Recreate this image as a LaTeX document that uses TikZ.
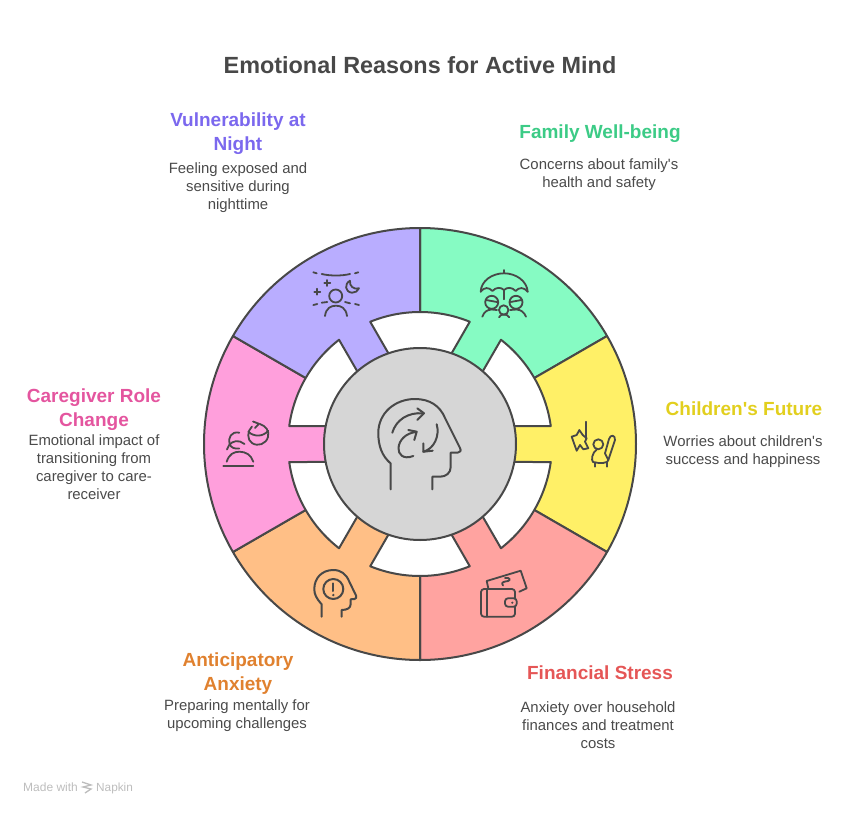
\documentclass[tikz,border=0pt]{standalone}
\usepackage{fontspec}
\setmainfont[Ligatures=TeXOff]{Liberation Sans}
\definecolor{inkgray}{HTML}{484848}
\definecolor{bodygray}{HTML}{4A4A4A}
\definecolor{markgray}{HTML}{BDBDBD}
\definecolor{hubgray}{HTML}{D6D6D6}
\definecolor{fillpurple}{HTML}{B9ADFF}
\definecolor{fillgreen}{HTML}{86FBC3}
\definecolor{fillyellow}{HTML}{FFF067}
\definecolor{fillred}{HTML}{FFA3A0}
\definecolor{fillorange}{HTML}{FFBF86}
\definecolor{fillpink}{HTML}{FF9FDC}
\definecolor{headpurple}{HTML}{7B68EE}
\definecolor{headgreen}{HTML}{3CCB86}
\definecolor{headyellow}{HTML}{E2CF1E}
\definecolor{headred}{HTML}{E55656}
\definecolor{headorange}{HTML}{E0812F}
\definecolor{headpink}{HTML}{E4559F}
\tikzset{
  wedge/.style={draw=inkgray, line width=2pt, line join=round},
  notch/.style={draw=inkgray, fill=white, line width=2pt, line join=round},
  icon/.style={draw=inkgray, line width=2pt, line cap=round, line join=round},
  thinicon/.style={icon, line width=1.8pt},
  headline/.style={font=\bfseries\fontsize{19}{24}\selectfont, align=center},
  blurb/.style={text=bodygray, font=\fontsize{14.9}{18}\selectfont, align=center},
}
\begin{document}
\begin{tikzpicture}[x=1pt,y=-1pt]
  \useasboundingbox (0,0) rectangle (852,814);

  \begin{scope}[shift={(420,444)}]
    \foreach \a/\col in {90/fillgreen,30/fillyellow,-30/fillred,-90/fillorange,-150/fillpink,-210/fillpurple}
      \draw[wedge, fill=\col] (0pt,0pt) -- (\a:216pt) arc[start angle=\a, end angle=\a-60, radius=216pt] -- cycle;
    \foreach \c in {90,30,-30,-90,-150,150}
      \draw[notch] ({\c-19.2}:96pt) -- ({\c-22.16}:132pt) arc[start angle=\c-22.16, end angle=\c+22.16, radius=132pt] -- ({\c+19.2}:96pt) -- cycle;
    \node[circle, draw=inkgray, fill=hubgray, line width=2pt, minimum size=192pt, inner sep=0pt] (hub) at (0pt,0pt) {};
  \end{scope}

  % head in the hub
  \draw[icon] (390.7,489.3) -- (390.7,463.5) .. controls (382,456) and (378.3,446) .. (378.3,433) .. controls (378.3,413) and (395,399) .. (415,399) .. controls (430,399) and (440,406) .. (445,418) -- (460,448) .. controls (461.5,451) and (460,452.3) .. (458,452.5) -- (450.7,452.7) -- (450.7,467) .. controls (450.7,473) and (446,476.7) .. (440,476.7) -- (432.3,476.7) -- (432.3,489.3);
  \draw[icon] (392.3,432.7) .. controls (396,420) and (408,412) .. (423.3,413.3);
  \draw[icon] (417.3,408.3) -- (424,413.3) -- (417.3,420);
  \draw[icon] (413.3,456) .. controls (403,460) and (398,454) .. (398.5,448) .. controls (399,440) and (406,433) .. (416,432);
  \draw[icon] (408.3,430) -- (416.7,431.7) -- (414.3,440);
  \draw[icon] (436.7,424.3) .. controls (440,436) and (434,449) .. (423.3,451.7);
  \draw[icon] (423.3,443.3) -- (423.3,451.7) -- (432.7,450.7);

  % night
  \draw[thinicon] (321.7,274) .. controls (330,276) and (342,276) .. (350,274);
  \draw[thinicon] (313.3,272.3) -- (316.7,273.3);
  \draw[thinicon] (355,273.3) -- (358.3,272.3);
  \draw[thinicon] (324.3,283) -- (330.3,283);
  \draw[thinicon] (327.3,280) -- (327.3,286);
  \draw[thinicon] (314.3,291.7) -- (320.3,291.7);
  \draw[thinicon] (317.3,288.7) -- (317.3,294.7);
  \draw[thinicon] (350,280.7) .. controls (344,284) and (345,292) .. (352,292.7) .. controls (355,293) and (358,291) .. (359,288.3) .. controls (354,290) and (349,286) .. (350,280.7);
  \draw[thinicon] (335.7,296) circle[radius=6.5pt];
  \draw[thinicon] (313.3,305) -- (317.3,304);
  \draw[thinicon] (321.7,302.7) -- (327.3,302);
  \draw[thinicon] (345,302) -- (350,303.3);
  \draw[thinicon] (355,304) -- (359,305);
  \draw[thinicon] (325,316) .. controls (326,308) and (331,305.7) .. (336,305.7) .. controls (341,305.7) and (346,308) .. (347,316);

  % umbrella
  \draw[thinicon] (504,270) -- (504,273.3);
  \draw[thinicon] (480.7,291.7) .. controls (481,281) and (492,273.3) .. (504,273.3) .. controls (516,273.3) and (527,281) .. (527.7,291.7);
  \draw[thinicon] (480.7,291.7) .. controls (484,287) and (489,287) .. (492.4,291) .. controls (496,287) and (501,287) .. (504,290) .. controls (507,287) and (512,287) .. (515.7,291) .. controls (519,287) and (524,287) .. (527.7,291.7);
  \draw[thinicon] (504,290) -- (504,299.3);
  \draw[thinicon] (491.7,302.3) circle[radius=6.5pt];
  \draw[thinicon] (516,302.3) circle[radius=6.5pt];
  \draw[thinicon] (503.7,310) circle[radius=4.7pt];
  \draw[thinicon] (486,300) -- (497,302);
  \draw[thinicon] (510.5,302) -- (521.5,300);
  \draw[thinicon] (482.3,316.7) .. controls (484,312) and (487,309.8) .. (491.5,309.5) -- (497,310);
  \draw[thinicon] (510,310) -- (516.5,309.5) .. controls (521,309.8) and (524,312) .. (526,316.7);
  \draw[thinicon] (499,317.3) .. controls (500,315) and (502,314.5) .. (503.7,314.5) .. controls (506,314.5) and (508,315) .. (509.3,317.3);

  % caregiver
  \draw[thinicon] (223.3,466) -- (253.3,466);
  \draw[thinicon] (226.7,461.7) .. controls (229,454) and (234,451.7) .. (239.5,451.7) .. controls (246,451.7) and (251,455) .. (253.3,461.7);
  \draw[thinicon] (239.3,432.7) .. controls (231,431) and (228,438) .. (229.5,444) .. controls (231,448) and (235,449) .. (239.3,448.5);
  \draw[thinicon] (227,449.5) .. controls (229,443) and (234,440) .. (240,441.5) -- (244.5,444);
  \draw[thinicon] (252,426.5) .. controls (247,431) and (247,440) .. (252,443) .. controls (258,447) and (266,444) .. (268,437) .. controls (269.5,431) and (266,426) .. (260,424);
  \draw[thinicon] (248.3,431.7) .. controls (254,437) and (263,437) .. (268.3,430.7);
  \draw[thinicon] (253,421.5) -- (259,423.8) -- (255,428);

  % child
  \draw[thinicon] (586,421.7) -- (586,438.3);
  \draw[thinicon] (571.7,436.7) -- (576.7,435) -- (579.3,430) -- (582.7,435) -- (586.7,438.3) -- (585,441.7) -- (588.3,448.3) -- (583.3,449.3) -- (580,445) -- (576.7,450.7) -- (574,443.3) -- cycle;
  \draw[thinicon] (598.3,444.3) circle[radius=5pt];
  \draw[thinicon] (596.7,449.5) .. controls (592,453) and (591,460) .. (593,462) .. controls (600,464) and (609,463) .. (608.3,460) -- (605,453.3);
  \draw[thinicon] (605,453.3) -- (609,439) .. controls (610.5,434) and (615.5,435) .. (615,440) -- (610,455) -- (608.3,460);
  \draw[thinicon] (595,462.5) -- (595,466.7);
  \draw[thinicon] (606.7,462) -- (606.7,466.7);

  % wallet
  \draw[thinicon, rounded corners=3pt] (481,589) rectangle (515,616.7);
  \draw[thinicon] (486.7,589) -- (486.7,616.7);
  \draw[thinicon, fill=fillred, rounded corners=3pt] (505,598.3) rectangle (516.7,606.7);
  \fill[inkgray] (512.3,602.7) circle[radius=1.2pt];
  \draw[thinicon] (488.3,588.3) -- (486.7,581) -- (520.7,570.7) -- (526.7,588.3) -- (519.3,591.7);
  \draw[thinicon] (503,585.5) .. controls (500,582) and (505,581.5) .. (508,581) .. controls (511,580.5) and (510,577) .. (505,578);

  % worried head
  \draw[icon] (321.7,616.7) -- (321.7,604.3) .. controls (316,598) and (314.3,594) .. (314.3,589) .. controls (314.3,578) and (322,570) .. (333.3,570) .. controls (341,570) and (346,574) .. (349,581) -- (356,595.5) .. controls (357,597.5) and (356,598.5) .. (354.5,599) -- (350.7,599.3) -- (350.7,604) .. controls (350.7,608) and (347,610) .. (341.7,610) -- (341.7,616.7);
  \draw[icon] (333.3,589) circle[radius=10pt];
  \draw[icon] (333.3,583.3) -- (333.3,591);
  \fill[inkgray] (333.3,595) circle[radius=1.3pt];

  % texts
  \node[text=inkgray, font=\bfseries\fontsize{23.4}{28}\selectfont] (title) at (420,65) {Emotional Reasons for Active Mind};

  \node[headline, text=headpurple] (night-head) at (238,134) {Vulnerability at\\Night};
  \node[blurb] (night-text) at (238,188) {Feeling exposed and\\sensitive during\\nighttime};
  \node[headline, text=headgreen] (family-head) at (600,134) {Family Well-being};
  \node[blurb] (family-text) at (599,175) {Concerns about family's\\health and safety};
  \node[headline, text=headyellow] (child-head) at (744,409) {Children's Future};
  \node[blurb] (child-text) at (743,452) {Worries about children's\\success and happiness};
  \node[headline, text=headred] (money-head) at (600,673) {Financial Stress};
  \node[blurb] (money-text) at (598,725) {Anxiety over household\\finances and treatment\\costs};
  \node[headline, text=headorange] (worry-head) at (238,674) {Anticipatory\\Anxiety};
  \node[blurb] (worry-text) at (237,716) {Preparing mentally for\\upcoming challenges};
  \node[headline, text=headpink] (care-head) at (94,410) {Caregiver Role\\Change};
  \node[blurb] (care-text) at (94,467) {Emotional impact of\\transitioning from\\caregiver to care-\\receiver};

  \node[text=markgray, font=\fontsize{12}{14}\selectfont, anchor=base west, inner sep=0pt] (made) at (23,791) {Made with};
  \node[text=markgray, font=\fontsize{11.8}{14}\selectfont, anchor=base west, inner sep=0pt] (napkin) at (96,791) {Napkin};
  \draw[markgray, line width=1.3pt] (82,782) -- (91,785) -- (83,787) -- (91,789) -- (85,793);
\end{tikzpicture}
\end{document}
